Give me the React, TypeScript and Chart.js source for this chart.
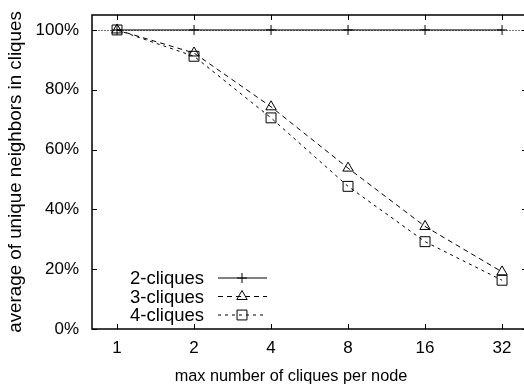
import React, { useEffect, useRef } from 'react';
import { Chart, registerables } from 'chart.js';
import { drawPoint } from 'chart.js/helpers';

Chart.register(...registerables);

const categories = ['1', '2', '4', '8', '16', '32'];
const seriesNames = ['2-cliques', '3-cliques', '4-cliques'];
const twoCliques = [100, 100, 100, 100, 100, 100];
const threeCliques = [100, 92.3, 74.3, 53.8, 34.3, 19.1];
const fourCliques = [100, 91.2, 70.6, 47.7, 29.2, 16.3];
const yTicks = [0, 20, 40, 60, 80, 100];
const referenceLine = 100;
const xTitle = 'max number of cliques per node';
const yTitle = 'average of unique neighbors in cliques';

const FONT = '"Liberation Sans", Arial, Helvetica, sans-serif';

const seriesStyles = [
  { dash: [] as number[], pointStyle: 'cross', radius: 5 },
  { dash: [5, 4], pointStyle: 'triangle', radius: 6 },
  { dash: [3, 4], pointStyle: 'rect', radius: 7 },
];

const zeroPadding = (s: any) => {
  s.paddingTop = 0;
  s.paddingBottom = 0;
  s.paddingLeft = 0;
  s.paddingRight = 0;
};

const framePlugin = {
  id: 'gnuplotFrame',
  afterLayout(chart: any) {
    // the gnuplot frame runs just past the right edge of the picture
    const x = chart.scales.x;
    const right = chart.width + 3;
    chart.chartArea.right = right;
    chart.chartArea.width = right - chart.chartArea.left;
    x.right = right;
    x.width = right - x.left;
    x.configure();
  },
  beforeDatasetsDraw(chart: any) {
    const { ctx, chartArea, scales } = chart;
    const y = scales.y.getPixelForValue(referenceLine);
    ctx.save();
    ctx.strokeStyle = '#777';
    ctx.lineWidth = 1;
    ctx.setLineDash([2, 1]);
    ctx.beginPath();
    ctx.moveTo(chartArea.left, Math.round(y) + 0.5);
    ctx.lineTo(chartArea.right, Math.round(y) + 0.5);
    ctx.stroke();
    ctx.restore();
  },
  afterDraw(chart: any) {
    const { ctx, chartArea, scales } = chart;
    const { left, right, top, bottom } = chartArea;
    ctx.save();
    ctx.strokeStyle = '#000';
    ctx.lineWidth = 1.5;
    ctx.setLineDash([]);
    ctx.beginPath();
    ctx.moveTo(right, top);
    ctx.lineTo(left, top);
    ctx.lineTo(left, bottom);
    ctx.lineTo(right, bottom);
    ctx.lineTo(right, top);
    ctx.stroke();
    ctx.lineWidth = 1;
    const tl = 5;
    ctx.beginPath();
    scales.x.ticks.forEach((t: any) => {
      const x = Math.round(scales.x.getPixelForValue(t.value)) + 0.5;
      ctx.moveTo(x, bottom);
      ctx.lineTo(x, bottom - tl);
      ctx.moveTo(x, top);
      ctx.lineTo(x, top + tl);
    });
    scales.y.ticks.forEach((t: any) => {
      const y = Math.round(scales.y.getPixelForValue(t.value)) + 0.5;
      ctx.moveTo(left, y);
      ctx.lineTo(left + tl, y);
      ctx.moveTo(right, y);
      ctx.lineTo(right - tl, y);
    });
    ctx.stroke();

    // x axis title (gnuplot places it slightly left of the frame centre)
    ctx.fillStyle = '#000';
    ctx.font = `16.3px ${FONT}`;
    ctx.textAlign = 'center';
    ctx.textBaseline = 'middle';
    ctx.fillText(xTitle, left + 199, bottom + 48);

    // legend (gnuplot style: text then sample)
    ctx.font = `18.5px ${FONT}`;
    ctx.textAlign = 'right';
    chart.data.datasets.forEach((ds: any, i: number) => {
      const st = seriesStyles[i];
      const yy = bottom - 51 + i * 18.5;
      ctx.fillStyle = '#000';
      ctx.fillText(ds.label, left + 112, yy + 1);
      ctx.strokeStyle = '#000';
      ctx.lineWidth = 1;
      ctx.setLineDash(st.dash);
      ctx.beginPath();
      ctx.moveTo(left + 126, yy);
      ctx.lineTo(left + 175, yy);
      ctx.stroke();
      ctx.setLineDash([]);
      ctx.fillStyle = 'rgba(0,0,0,0)';
      drawPoint(ctx, { pointStyle: st.pointStyle, radius: st.radius, rotation: 0, borderWidth: 1 } as any, left + 150, yy);
    });
    ctx.restore();
  },
};

export default function App() {
  const ref = useRef<HTMLCanvasElement>(null);

  useEffect(() => {
    document.body.style.margin = '0';
    const seriesValues = [twoCliques, threeCliques, fourCliques];
    const chart = new Chart(ref.current as HTMLCanvasElement, {
      type: 'line',
      data: {
        datasets: seriesValues.map((vals, i) => ({
          label: seriesNames[i],
          data: vals.map((v, k) => ({ x: k, y: v })),
          borderColor: '#000',
          borderWidth: 1,
          borderDash: seriesStyles[i].dash,
          pointStyle: seriesStyles[i].pointStyle as any,
          pointRadius: seriesStyles[i].radius,
          pointBorderColor: '#000',
          pointBackgroundColor: 'rgba(0,0,0,0)',
          pointBorderWidth: 1,
          tension: 0,
          fill: false,
        })),
      },
      options: {
        animation: false,
        responsive: false,
        devicePixelRatio: 1,
        layout: { padding: { top: 15, left: 0, right: 0, bottom: 0 } },
        plugins: { legend: { display: false }, tooltip: { enabled: false } },
        scales: {
          x: {
            type: 'linear',
            min: -0.325,
            max: 5.324,
            afterBuildTicks: (s: any) => {
              s.ticks = categories.map((_, i) => ({ value: i }));
            },
            afterFit: (s: any) => {
              s.height = 57;
              zeroPadding(s);
            },
            ticks: {
              autoSkip: false,
              maxRotation: 0,
              padding: 9,
              color: '#000',
              font: { family: FONT, size: 17 },
              callback: (v: any) => categories[v],
            },
            grid: { display: false, drawTicks: false },
            border: { display: false },
          },
          y: {
            type: 'linear',
            min: 0,
            max: 105,
            afterBuildTicks: (s: any) => {
              s.ticks = yTicks.map((v) => ({ value: v }));
            },
            afterFit: (s: any) => {
              s.width = 92;
              zeroPadding(s);
            },
            ticks: {
              padding: 13,
              color: '#000',
              font: { family: FONT, size: 17 },
              callback: (v: any) => `${v}%`,
            },
            grid: { display: false, drawTicks: false },
            border: { display: false },
            title: {
              display: true,
              text: yTitle,
              color: '#000',
              font: { family: FONT, size: 18.8 },
              padding: { top: 5, bottom: 0 },
            },
          },
        },
      },
      plugins: [framePlugin],
    });
    return () => chart.destroy();
  }, []);

  return (
    <div style={{ position: 'fixed', left: 0, top: 0, width: 524, height: 386, background: '#fff', overflow: 'hidden' }}>
      <canvas ref={ref} width={524} height={386} style={{ width: 524, height: 386, display: 'block' }} />
    </div>
  );
}
